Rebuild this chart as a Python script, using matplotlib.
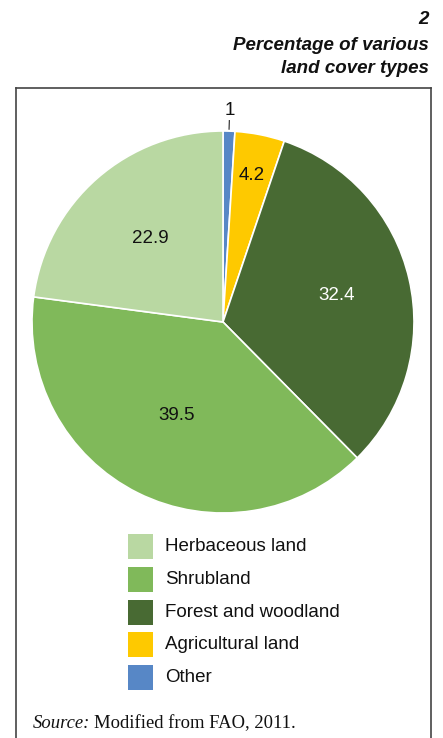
import matplotlib
matplotlib.use("Agg")
import matplotlib.pyplot as plt
from matplotlib.patches import Rectangle
from matplotlib.lines import Line2D
import numpy as np

# data, clockwise from 12 o'clock
labels = ["Other", "Agricultural land", "Forest and woodland", "Shrubland", "Herbaceous land"]
values = [1, 4.2, 32.4, 39.5, 22.9]
value_text = ["1", "4.2", "32.4", "39.5", "22.9"]
colors = ["#5787c6", "#fec900", "#486a33", "#80b95a", "#b9d8a2"]
text_colors = ["#111111", "#111111", "white", "#111111", "#111111"]
label_radius = [1.11, 0.78, 0.61, 0.545, 0.58]

# legend order (top to bottom)
legend_order = ["Herbaceous land", "Shrubland", "Forest and woodland", "Agricultural land", "Other"]

W, H = 443, 738
fig = plt.figure(figsize=(W / 100, H / 100), dpi=100)
sans = ["Liberation Sans", "DejaVu Sans"]
serif = ["Liberation Serif", "DejaVu Serif"]

def fx(px):
    return px / W

def fy(py):
    # py measured from top
    return 1 - py / H

# title block
for txt, base in [("2", 24), ("Percentage of various", 50), ("land cover types", 73)]:
    fig.text(fx(429), fy(base), txt, ha="right", va="baseline", family=sans,
             fontsize=13.5, fontweight="bold", fontstyle="italic", color="#111111")

# frame (open at the bottom)
frame_kw = dict(color="#444444", lw=1.2, transform=fig.transFigure)
fig.add_artist(Line2D([fx(16), fx(431)], [fy(88), fy(88)], **frame_kw))
fig.add_artist(Line2D([fx(16), fx(16)], [fy(88), 0], **frame_kw))
fig.add_artist(Line2D([fx(431), fx(431)], [fy(88), 0], **frame_kw))

# pie
cx, cy, r = 223, 322, 191
ax = fig.add_axes([fx(cx - r), fy(cy + r), (2 * r) / W, (2 * r) / H])
wedges, _ = ax.pie(values, colors=colors, startangle=90, counterclock=False,
                   radius=1, wedgeprops=dict(edgecolor="white", linewidth=1.2))
ax.set_xlim(-1, 1)
ax.set_ylim(-1, 1)
ax.set_aspect("equal")
ax.axis("off")

for w, t, tc, lr in zip(wedges, value_text, text_colors, label_radius):
    ang = np.deg2rad((w.theta1 + w.theta2) / 2)
    x, y = lr * np.cos(ang), lr * np.sin(ang)
    ax.text(x, y, t, ha="center", va="center", fontsize=13.5, family=sans,
            color=tc, clip_on=False)
    if lr > 1:
        ax.plot([np.cos(ang) * 1.01, np.cos(ang) * 1.055],
                [np.sin(ang) * 1.01, np.sin(ang) * 1.055],
                color="#222222", lw=0.8, clip_on=False)

# legend
for i, name in enumerate(legend_order):
    col = colors[labels.index(name)]
    yc = 546.5 + i * 32.8
    fig.add_artist(Rectangle((fx(128), fy(yc + 12.5)), 25 / W, 25 / H,
                             transform=fig.transFigure, facecolor=col, edgecolor="none"))
    fig.text(fx(165), fy(yc), name, ha="left", va="center", family=sans,
             fontsize=13.5, color="#111111")

# source line
s1 = fig.text(fx(33), fy(728), "Source:", ha="left", va="baseline", family=serif,
              fontsize=13.4, fontstyle="italic", color="#111111")
fig.canvas.draw()
bb = s1.get_window_extent(renderer=fig.canvas.get_renderer())
fig.text(bb.x1 / W + fx(4), fy(728), "Modified from FAO, 2011.", ha="left",
         va="baseline", family=serif, fontsize=13.4, color="#111111")

fig.savefig("out.png", dpi=100)
